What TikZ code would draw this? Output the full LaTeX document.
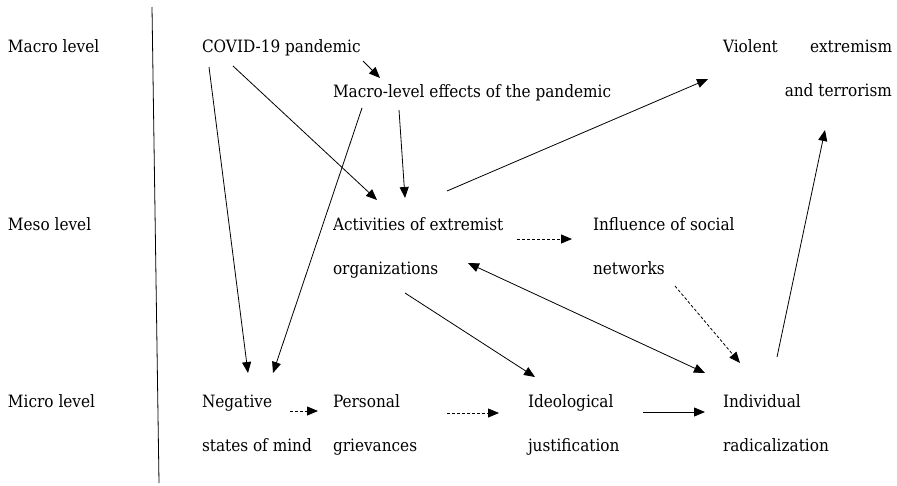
\documentclass[tikz,border=0pt]{standalone}
\usepackage{fontspec}
\setmainfont{DejaVu Serif}[FakeStretch=0.9]
\usetikzlibrary{arrows.meta,calc}
\tikzset{
  lbl/.style={anchor=base west, inner sep=0pt, outer sep=0pt, font=\rmfamily\fontsize{17}{44.5}\selectfont},
  arr/.style={line width=0.8pt, ->},
  dbl/.style={line width=0.8pt, <->},
  darr/.style={arr, dash pattern=on 3pt off 2pt},
}
\newcommand{\twoline}[2]{\begin{tabular}[t]{@{}l@{}}#1\\#2\end{tabular}}
\begin{document}
\begin{tikzpicture}[x=1pt,y=-1pt,>={Triangle[length=11pt,width=9pt]}]
\useasboundingbox (0,0) rectangle (897,485);
% level labels and divider
\node[lbl] (macro) at (8,52) {Macro level};
\node[lbl] (meso) at (8,230) {Meso level};
\node[lbl] (micro) at (8,407) {Micro level};
\draw[line width=0.8pt] (152,7) -- (159,483);
% concepts
\node[lbl] (covid) at (202,52) {COVID-19 pandemic};
\node[lbl] (effects) at (333,97) {Macro-level effects of the pandemic};
\node[lbl] (violent) at (723,52) {\begin{tabular}[t]{@{}r@{}}\makebox[169pt][s]{Violent extremism}\\and terrorism\end{tabular}};
\node[lbl] (activities) at (333,230) {\twoline{Activities of extremist}{organizations}};
\node[lbl] (influence) at (593,230) {\twoline{Influence of social}{networks}};
\node[lbl] (negative) at (202,407) {\twoline{Negative}{states of mind}};
\node[lbl] (personal) at (333,407) {\twoline{Personal}{grievances}};
\node[lbl] (ideological) at (528,407) {\twoline{Ideological}{justification}};
\node[lbl] (individual) at (723,407) {\twoline{Individual}{radicalization}};
% connectors
\draw[arr] ($(covid.base west)+(161,9)$) -- ($(effects.base west)+(47,-19)$);
\draw[arr] ($(covid.base west)+(31,14)$) -- ($(activities.base west)+(44,-30)$);
\draw[arr] ($(covid.base west)+(7,15)$) -- ($(negative.base west)+(46,-34)$);
\draw[arr] ($(effects.base west)+(29,11)$) -- ($(negative.base west)+(71,-34)$);
\draw[arr] ($(effects.base west)+(66,13)$) -- ($(activities.base west)+(72,-32)$);
\draw[arr] ($(activities.base west)+(114,-39)$) -- ($(violent.base west)+(-15,27)$);
\draw[dbl] ($(activities.base west)+(135,33)$) -- ($(individual.base west)+(-18,-34)$);
\draw[arr] ($(activities.base west)+(72,63)$) -- ($(ideological.base west)+(7,-30)$);
\draw[darr] ($(activities.base west)+(184,9)$) -- ($(influence.base west)+(-21,9)$);
\draw[darr] ($(influence.base west)+(82,56)$) -- ($(individual.base west)+(17,-44)$);
\draw[arr] ($(individual.base west)+(54,-50)$) -- ($(violent.base west)+(102,78)$);
\draw[darr] ($(negative.base west)+(88,4)$) -- ($(personal.base west)+(-15,4)$);
\draw[darr] ($(personal.base west)+(114,6)$) -- ($(ideological.base west)+(-29,6)$);
\draw[arr] ($(ideological.base west)+(115,5)$) -- ($(individual.base west)+(-18,5)$);
\end{tikzpicture}
\end{document}
